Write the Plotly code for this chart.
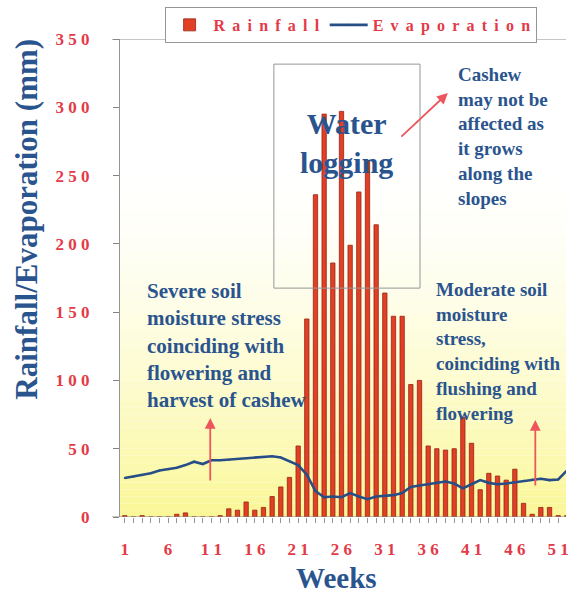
import plotly.graph_objects as go

# Weekly rainfall and evaporation (mm), weeks 1-52
weeks = list(range(1, 53))
rainfall = [1, 0, 1, 0, 0, 0, 2, 3, 0, 0, 0, 1, 6, 5, 11, 5, 7, 15, 22, 29,
            52, 145, 236, 295, 186, 297, 199, 238, 261, 214, 164, 147, 147, 97, 100, 52,
            50, 49, 50, 73, 54, 20, 32, 30, 27, 35, 10, 2, 7, 7, 1, 1]
evaporation = [28.5, 29.5, 30.5, 32, 34, 35, 36, 38, 40.5, 38.8, 41.5, 41.5, 42, 42.5, 43,
               43.5, 44, 44.5, 43.5, 41, 38, 31, 19, 14.5, 15, 14.5, 17.5, 15, 13, 15,
               15.5, 16, 17.5, 22, 23, 24, 25.5, 26, 24.5, 21, 24, 27, 25, 24, 24.5, 25.5,
               26.5, 27.5, 28, 27, 27.5, 34]
x_tick_weeks = [1, 6, 11, 16, 21, 26, 31, 36, 41, 46, 51]
y_ticks = [0, 50, 100, 150, 200, 250, 300, 350]

RED_TXT = "rgb(228,58,72)"
BLUE_TXT = "rgb(42,84,142)"
SERIF = "Liberation Serif"


def spaced(s, sep=" "):
    return sep.join(s)


fig = go.Figure()
fig.add_trace(go.Bar(
    x=weeks, y=rainfall, name=spaced("Rainfall", "\u2009 "),
    marker=dict(color="rgb(226,64,36)", line=dict(color="rgb(150,35,20)", width=0.8)),
    width=0.5,
))
fig.add_trace(go.Scatter(
    x=weeks, y=evaporation, name=spaced("Evaporation", "\u2009 "), mode="lines+markers",
    line=dict(color="rgb(40,78,135)", width=2.6),
    marker=dict(size=2, color="rgb(40,78,135)"),
))

# soft white-to-yellow backdrop rising from the x axis
shapes = []
step = 5
top = 260
for y0 in range(0, top, step):
    t = (y0 + step / 2) / top
    f = (1 - t) ** 1.6
    r = round(255 + f * (250 - 255))
    g = round(255 + f * (247 - 255))
    b = round(255 + f * (150 - 255))
    shapes.append(dict(type="rect", xref="paper", yref="y", x0=0, x1=1, y0=y0, y1=y0 + step,
                       fillcolor=f"rgb({r},{g},{b})", line=dict(width=0), layer="below"))

# frame lines (bottom and top) extending slightly left of the y axis
for yv in (0, 350):
    shapes.append(dict(type="line", xref="paper", yref="y", x0=-0.018, x1=1, y0=yv, y1=yv,
                       line=dict(color="rgb(140,140,140)", width=1.2)))

# water-logging box
shapes.append(dict(type="rect", xref="x", yref="y", x0=18.2, x1=35.06, y0=167.6, y1=331.6,
                   line=dict(color="rgb(150,150,150)", width=1), fillcolor="rgba(0,0,0,0)"))

annotations = [
    dict(text="Rainfall/Evaporation (mm)", xref="paper", yref="paper", x=-0.2116, y=0.6234,
         textangle=-90, showarrow=False, xanchor="center", yanchor="middle",
         font=dict(family=SERIF, size=31, color=BLUE_TXT, weight="bold")),
    dict(text="Weeks", xref="paper", yref="paper", x=0.4855, y=-0.1276, showarrow=False,
         xanchor="center", yanchor="middle",
         font=dict(family=SERIF, size=29, color=BLUE_TXT, weight="bold")),
    dict(text="Water<br>logging", xref="x", yref="y", x=26.57, y=274.2, showarrow=False,
         xanchor="center", yanchor="middle", align="center",
         font=dict(family=SERIF, size=30, color=BLUE_TXT, weight="bold")),
    dict(text="Cashew<br>may not be<br>affected as<br>it grows<br>along the<br>slopes",
         xref="x", yref="y", x=39.2, y=278.9, showarrow=False, xanchor="left",
         yanchor="middle", align="left",
         font=dict(family=SERIF, size=19, color=BLUE_TXT, weight="bold")),
    dict(text="Severe soil<br>moisture stress<br>coinciding with<br>flowering and<br>harvest of cashew",
         xref="x", yref="y", x=3.29, y=125.5, showarrow=False, xanchor="left",
         yanchor="middle", align="left",
         font=dict(family=SERIF, size=21, color=BLUE_TXT, weight="bold")),
    dict(text="Moderate soil<br>moisture<br>stress,<br>coinciding with<br>flushing and<br>flowering",
         xref="x", yref="y", x=36.67, y=121.2, showarrow=False, xanchor="left",
         yanchor="middle", align="left",
         font=dict(family=SERIF, size=19, color=BLUE_TXT, weight="bold")),
]

ARROW = "rgb(236,86,92)"
for (ax_w, ay_v, dx, dy) in [(38.27, 310.4, -48, 45), (10.86, 72.5, 0, 64), (48.36, 71, 0, 67)]:
    annotations.append(dict(x=ax_w, y=ay_v, xref="x", yref="y", ax=dx, ay=dy, text="",
                            showarrow=True, arrowhead=2, arrowsize=1.2, arrowwidth=1.8,
                            arrowcolor=ARROW))

fig.update_layout(
    width=569, height=593,
    margin=dict(l=120, r=0, t=39, b=76),
    paper_bgcolor="white", plot_bgcolor="white",
    bargap=0.4,
    shapes=shapes, annotations=annotations,
    legend=dict(orientation="h", x=0.1, y=1.067, xanchor="left", yanchor="top",
                bordercolor="rgb(150,150,150)", borderwidth=1, bgcolor="white",
                font=dict(family=SERIF, size=16, color=RED_TXT, weight="bold"),
                itemwidth=38, tracegroupgap=0),
    xaxis=dict(range=[0.45, 51.9], tickmode="array", tickvals=weeks,
               ticktext=[spaced(str(w)) if w in x_tick_weeks else "" for w in weeks],
               ticks="outside", ticklen=5, tickcolor="rgb(150,150,150)", tickwidth=1,
               showgrid=False, zeroline=False, showline=False, ticklabelstandoff=12,
               ticklabeloverflow="allow",
               tickfont=dict(family=SERIF, size=17, color=RED_TXT, weight="bold")),
    yaxis=dict(range=[0, 350], tickmode="array", tickvals=y_ticks,
               ticktext=[spaced(str(v)) for v in y_ticks],
               ticks="outside", ticklen=6, tickcolor="rgb(130,130,130)", tickwidth=1,
               showgrid=False, zeroline=False, showline=True, linecolor="rgb(150,150,150)",
               linewidth=1.2, ticklabelstandoff=20,
               tickfont=dict(family=SERIF, size=17, color=RED_TXT, weight="bold")),
)

fig.write_html("out.html")
